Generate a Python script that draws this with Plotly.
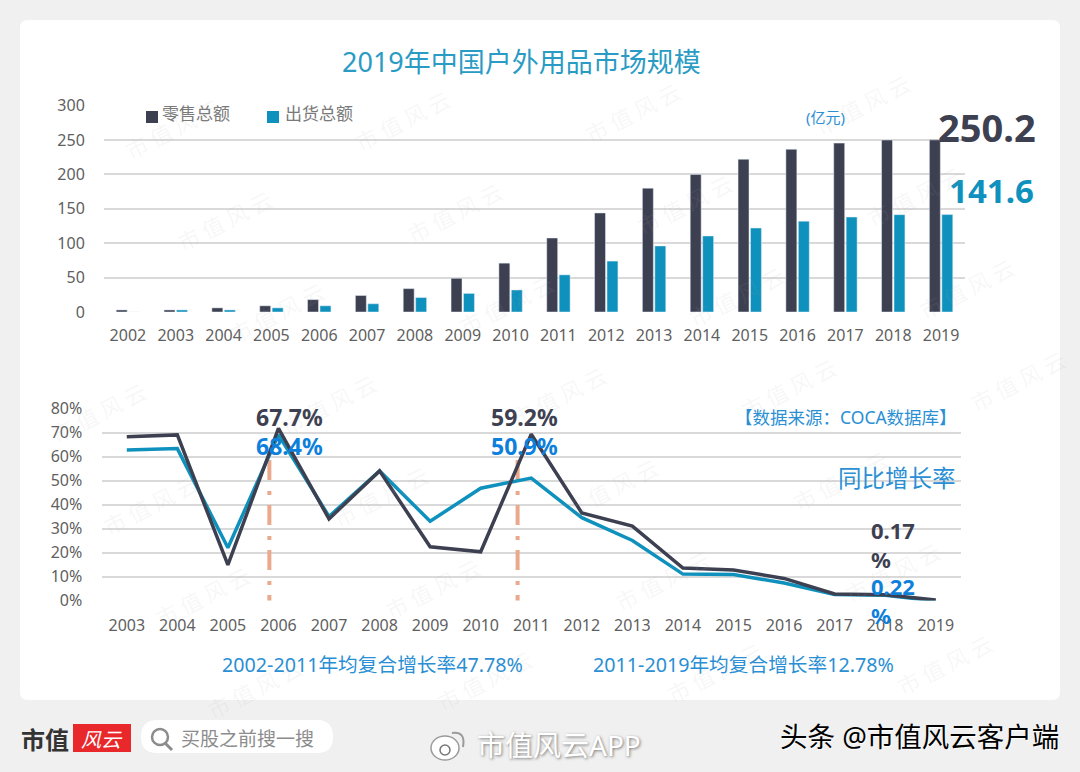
import plotly.graph_objects as go

W, H = 1080, 772
CJK = "Noto Sans, Noto Sans CJK SC"
CJK_ONLY = "Noto Sans CJK SC"
DARK = "#3d4051"
TEAL = "#0f91bd"
BLUE = "#2a8fd4"
LBL_BLUE = "#0d80dc"
GRID = "#d9d9d9"
TICK = "#5f5f5f"

years_top = list(range(2002, 2020))
retail = [3, 3, 6, 9, 18, 24, 34, 49, 71, 107.5, 144, 180, 200, 222, 236.5, 245.5, 250, 250.2]
shipment = [0, 3, 3, 6, 9, 12, 21, 27, 32, 54, 74, 96, 110.5, 122, 132, 138, 141.5, 141.6]

years_low = list(range(2003, 2020))
retail_yoy = [68.2, 69, 14.8, 71.7, 34, 54, 22.4, 20.3, 69.3, 36.5, 31, 13.5, 12.7, 9.2, 2.7, 2.4, 0.17]
shipment_yoy = [62.7, 63.3, 22, 69, 35, 54, 33, 46.8, 51, 34.5, 25, 11, 10.8, 7.3, 2.5, 2.2, -0.2]

marker_x = [2005.82, 2010.73]
marker_y = [58.5, -1]


def px(x):
    return x / W


def py(y):
    return 1 - y / H


fig = go.Figure()
fig.add_bar(x=years_top, y=retail, name="零售总额", marker_color=DARK, xaxis="x", yaxis="y", showlegend=False)
fig.add_bar(x=years_top, y=shipment, name="出货总额", marker_color=TEAL, xaxis="x", yaxis="y", showlegend=False)

for mx in marker_x:
    fig.add_scatter(x=[mx, mx], y=marker_y, mode="lines", xaxis="x2", yaxis="y2", showlegend=False,
                    line=dict(color="#e9a98a", width=4, dash="20px,11px,4px,10px"), cliponaxis=False)
fig.add_scatter(x=years_low, y=shipment_yoy, mode="lines", name="出货总额同比", xaxis="x2", yaxis="y2",
                line=dict(color=TEAL, width=3.5), cliponaxis=False, showlegend=False)
fig.add_scatter(x=years_low, y=retail_yoy, mode="lines", name="零售总额同比", xaxis="x2", yaxis="y2",
                line=dict(color=DARK, width=3.5), cliponaxis=False, showlegend=False)

shapes = [
    dict(type="path", xref="paper", yref="paper", layer="below", fillcolor="white", line_width=0,
         path=f"M {px(28)} {py(20)} L {px(1052)} {py(20)} Q {px(1060)} {py(20)} {px(1060)} {py(28)} "
              f"L {px(1060)} {py(692)} Q {px(1060)} {py(700)} {px(1052)} {py(700)} "
              f"L {px(28)} {py(700)} Q {px(20)} {py(700)} {px(20)} {py(692)} "
              f"L {px(20)} {py(28)} Q {px(20)} {py(20)} {px(28)} {py(20)} Z"),
    # legend swatches
    dict(type="rect", xref="paper", yref="paper", x0=px(146), x1=px(158), y0=py(111), y1=py(123), fillcolor=DARK, line_width=0),
    dict(type="rect", xref="paper", yref="paper", x0=px(267), x1=px(279), y0=py(111), y1=py(123), fillcolor=TEAL, line_width=0),
    # footer: red logo box
    dict(type="rect", xref="paper", yref="paper", x0=px(73), x1=px(131), y0=py(724), y1=py(752), fillcolor="#e8282b", line_width=0),
    # footer: search pill
    dict(type="path", xref="paper", yref="paper", fillcolor="white", line_width=0,
         path=f"M {px(157)} {py(720)} L {px(317)} {py(720)} Q {px(333)} {py(720)} {px(333)} {py(737)} "
              f"Q {px(333)} {py(753)} {px(317)} {py(753)} L {px(157)} {py(753)} "
              f"Q {px(141)} {py(753)} {px(141)} {py(737)} Q {px(141)} {py(720)} {px(157)} {py(720)} Z"),
    dict(type="circle", xref="paper", yref="paper", x0=px(152), x1=px(168), y0=py(729), y1=py(745),
         line=dict(color="#8c8c8c", width=2.5)),
    dict(type="line", xref="paper", yref="paper", x0=px(165), x1=px(172), y0=py(743), y1=py(750),
         line=dict(color="#8c8c8c", width=3)),
    # footer: weibo glyph
    dict(type="circle", xref="paper", yref="paper", x0=px(431), x1=px(459), y0=py(736), y1=py(760),
         fillcolor="white", line=dict(color="#9a9a9a", width=1.5)),
    dict(type="circle", xref="paper", yref="paper", x0=px(440), x1=px(450), y0=py(745), y1=py(755),
         fillcolor="white", line=dict(color="#777777", width=1.5)),
    dict(type="path", xref="paper", yref="paper", line=dict(color="#9a9a9a", width=2),
         path=f"M {px(452)} {py(733)} Q {px(466)} {py(731)} {px(463)} {py(747)}"),
]

ann = []


def text(x, y, s, size, color, anchor="center", family=CJK, bold=False, angle=0, shadow=None, valign="middle"):
    font = dict(size=size, color=color, family=family)
    if bold:
        font["weight"] = 700
    if shadow:
        font["shadow"] = shadow
    ann.append(dict(x=px(x), y=py(y), xref="paper", yref="paper", text=s, showarrow=False, font=font,
                    xanchor=anchor, yanchor=valign, textangle=angle, align="left", borderpad=0))


text(521, 61, "2019年中国户外用品市场规模", 27, "#2a9bc4")
text(161, 113, "零售总额", 17, "#7a7a7a", anchor="left", family=CJK_ONLY)
text(284, 113, "出货总额", 17, "#7a7a7a", anchor="left", family=CJK_ONLY)
text(825, 117, "(亿元)", 15, BLUE)
text(987, 127, "250.2", 38, DARK, bold=True)
text(991, 190, "141.6", 33, TEAL, bold=True)

text(289, 417, "67.7%", 23, DARK, bold=True)
text(289, 446, "68.4%", 23, LBL_BLUE, bold=True)
text(524, 417, "59.2%", 23, DARK, bold=True)
text(524, 446, "50.9%", 23, LBL_BLUE, bold=True)
text(870, 544, "0.17<br>%", 22, DARK, anchor="left", bold=True)
text(870, 600, "0.22<br>%", 22, LBL_BLUE, anchor="left", bold=True)
text(846, 417, "【数据来源：COCA数据库】", 17.5, BLUE)
text(897, 478, "同比增长率", 23.5, BLUE)
text(372.5, 664, "2002-2011年均复合增长率47.78%", 19.7, BLUE)
text(743.5, 664, "2011-2019年均复合增长率12.78%", 19.7, BLUE)

# footer
text(45, 738, "市值", 24, "#333333", family=CJK_ONLY, bold=True)
text(102, 738, "<i>风云</i>", 20, "white", family=CJK_ONLY)
text(180, 737, "买股之前搜一搜", 19, "#8c8c8c", anchor="left", family=CJK_ONLY)
text(476, 745, "市值风云APP", 28, "white", anchor="left", shadow="1px 1px 3px #777777")
text(779, 736, "头条 @市值风云客户端", 27.5, "black", anchor="left", shadow="1px 1px 1px #ffffff")

# watermark lattice
for i in range(-3, 7):
    for j in range(-2, 9):
        wx = 172 + 230 * i + 52 * j
        wy = 128 - 8 * i + 92 * j
        if 60 < wx < 1020 and 40 < wy < 735:
            text(wx, wy, "市 值 风 云", 22, "rgba(170,170,170,0.10)", family=CJK_ONLY, angle=-27)

ax_tick = dict(size=16, color=TICK, family="Noto Sans")
fig.update_layout(
    width=W, height=H, margin=dict(l=0, r=0, t=0, b=0, autoexpand=False),
    paper_bgcolor="#f0f0f0", plot_bgcolor="rgba(0,0,0,0)",
    barmode="group", bargap=0.48, bargroupgap=0.12,
    shapes=shapes, annotations=ann,
    xaxis=dict(domain=[px(104), px(965)], range=[2001.5, 2019.5], tickvals=years_top,
               ticktext=[str(y) for y in years_top], tickfont=ax_tick, showgrid=False, zeroline=False,
               showline=False, ticks="outside", ticklen=9, tickcolor="rgba(0,0,0,0)", anchor="y"),
    yaxis=dict(domain=[py(312), py(105.6)], range=[0, 300], tickvals=[0, 50, 100, 150, 200, 250, 300],
               tickfont=ax_tick, gridcolor=GRID, gridwidth=2, zeroline=False, showline=False,
               ticks="outside", ticklen=15, tickcolor="rgba(0,0,0,0)", anchor="x"),
    xaxis2=dict(domain=[px(101.5), px(961)], range=[2002.5, 2019.5], tickvals=years_low,
                ticktext=[str(y) for y in years_low], tickfont=ax_tick, showgrid=False, zeroline=False,
                showline=False, ticks="outside", ticklen=10, tickcolor="rgba(0,0,0,0)", anchor="y2"),
    yaxis2=dict(domain=[py(600.5), py(408.5)], range=[0, 80], tickvals=[0, 10, 20, 30, 40, 50, 60, 70, 80],
                ticktext=[f"{v}%" for v in [0, 10, 20, 30, 40, 50, 60, 70, 80]],
                tickfont=ax_tick, gridcolor=GRID, gridwidth=2, zeroline=False, showline=False,
                ticks="outside", ticklen=15, tickcolor="rgba(0,0,0,0)", anchor="x2"),
)

fig.write_html("out.html", config={"displayModeBar": False},
               post_script="document.body.style.margin='0';document.body.style.overflow='hidden';")
